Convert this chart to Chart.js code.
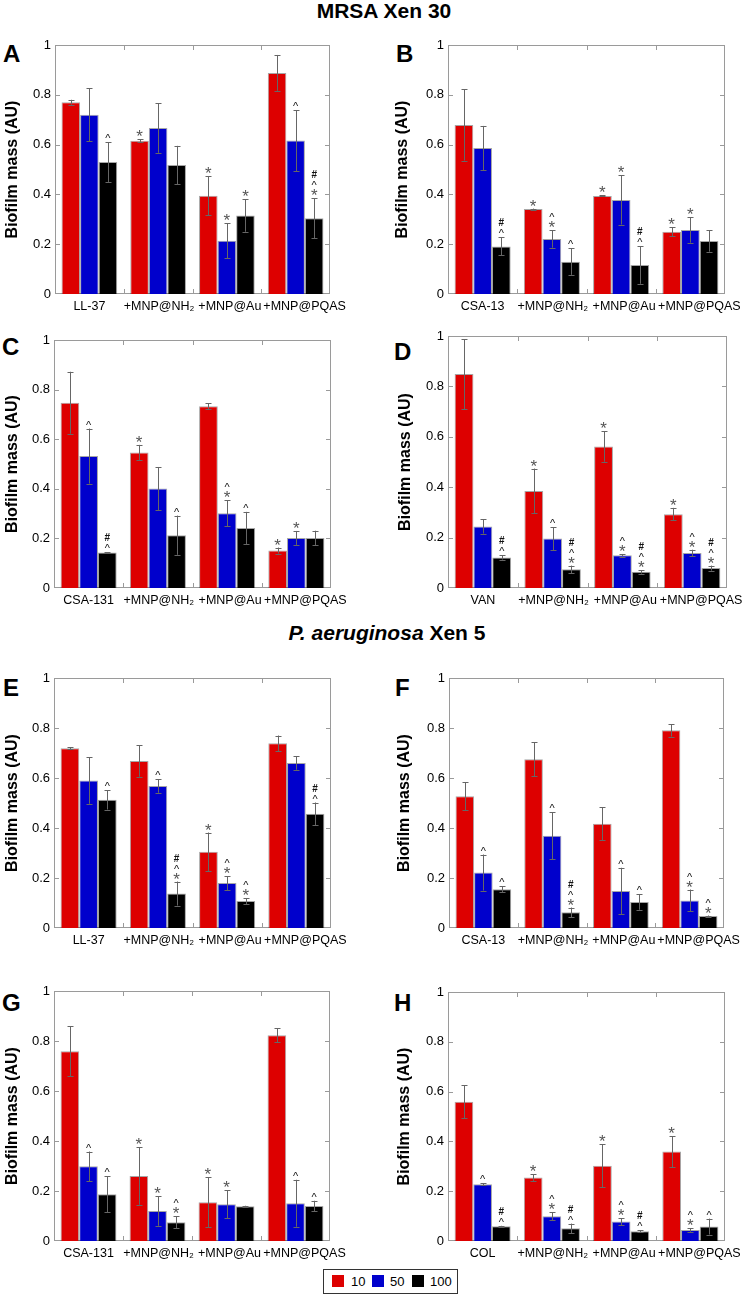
<!DOCTYPE html>
<html>
<head>
<meta charset="utf-8">
<script src="https://cdn.jsdelivr.net/npm/chart.js@4.4.0/dist/chart.umd.min.js"></script>
<style>
  body { margin: 0; width: 746px; height: 1301px; background: #fff; position: relative; overflow: hidden;
         font-family: "Liberation Sans", Arial, sans-serif; color: #000; }
  .panel { position: absolute; }
  .letter { position: absolute; font-weight: bold; font-size: 24px; line-height: 24px; }
  .head { position: absolute; font-weight: bold; font-size: 21px; line-height: 21px; white-space: nowrap; transform: translateX(-50%); }
  .legend { position: absolute; left: 323px; top: 1269px; width: 133px; height: 23px; border: 1px solid #333; font-size: 13px; }
  .legend span { position: absolute; }
  .legend .sw { width: 12px; height: 12px; top: 5px; }
  .legend .tx { top: 4px; line-height: 15px; }
</style>
</head>
<body>

<div class="head" style="left:384px; top:0px;">MRSA Xen 30</div>
<div class="head" style="left:387px; top:622px;"><i>P. aeruginosa</i> Xen 5</div>

<div class="letter" style="left:3px; top:42px;">A</div>
<div class="letter" style="left:396px; top:42px;">B</div>
<div class="letter" style="left:2px; top:335px;">C</div>
<div class="letter" style="left:394px; top:340px;">D</div>
<div class="letter" style="left:3px; top:676px;">E</div>
<div class="letter" style="left:395px; top:676px;">F</div>
<div class="letter" style="left:2px; top:991px;">G</div>
<div class="letter" style="left:394px; top:991px;">H</div>

<div class="legend">
  <span class="sw" style="left:8px; background:#dd0000;"></span><span class="tx" style="left:27px;">10</span>
  <span class="sw" style="left:48px; background:#0000cc;"></span><span class="tx" style="left:66px;">50</span>
  <span class="sw" style="left:88px; background:#000;"></span><span class="tx" style="left:106px;">100</span>
</div>

<script>
// ---------- data ----------
const doses = ['10', '50', '100'];
const doseColors = ['#dd0000', '#0000cc', '#000000'];

// MRSA Xen 30
const labelsA = ['LL-37', '+MNP@NH₂', '+MNP@Au', '+MNP@PQAS'];
const meanA = [[0.77, 0.615, 0.395, 0.888], [0.72, 0.667, 0.214, 0.616], [0.53, 0.518, 0.315, 0.304]];
const errA  = [[0.01, 0.006, 0.079, 0.072], [0.107, 0.1, 0.07, 0.123], [0.08, 0.077, 0.065, 0.08]];
const markA = [['', '*', '*', ''], ['', '', '*', '^'], ['^', '', '*', '#^*']];

const labelsB = ['CSA-13', '+MNP@NH₂', '+MNP@Au', '+MNP@PQAS'];
const meanB = [[0.679, 0.341, 0.394, 0.25], [0.586, 0.221, 0.378, 0.257], [0.191, 0.13, 0.116, 0.213]];
const errB  = [[0.143, 0.002, 0.002, 0.018], [0.089, 0.035, 0.099, 0.051], [0.036, 0.053, 0.075, 0.043]];
const markB = [['', '*', '*', '*'], ['', '^*', '*', '*'], ['#^', '^', '#^', '']];

const labelsC = ['CSA-131', '+MNP@NH₂', '+MNP@Au', '+MNP@PQAS'];
const meanC = [[0.747, 0.546, 0.733, 0.151], [0.532, 0.401, 0.301, 0.202], [0.143, 0.213, 0.242, 0.202]];
const errC  = [[0.125, 0.031, 0.011, 0.012], [0.111, 0.087, 0.052, 0.028], [0.002, 0.079, 0.065, 0.029]];
const markC = [['', '*', '', '*'], ['^', '', '^*', '*'], ['#^', '^', '^', '']];

const labelsD = ['VAN', '+MNP@NH₂', '+MNP@Au', '+MNP@PQAS'];
const meanD = [[0.849, 0.385, 0.562, 0.293], [0.244, 0.196, 0.13, 0.139], [0.121, 0.074, 0.064, 0.079]];
const errD  = [[0.139, 0.089, 0.061, 0.025], [0.028, 0.046, 0.005, 0.013], [0.008, 0.015, 0.007, 0.01]];
const markD = [['', '*', '*', '*'], ['', '^', '^*', '^*'], ['#^', '#^*', '#^*', '#^*']];

// P. aeruginosa Xen 5
const labelsE = ['LL-37', '+MNP@NH₂', '+MNP@Au', '+MNP@PQAS'];
const meanE = [[0.719, 0.668, 0.305, 0.739], [0.59, 0.568, 0.18, 0.66], [0.513, 0.138, 0.108, 0.457]];
const errE  = [[0.004, 0.063, 0.077, 0.031], [0.093, 0.027, 0.028, 0.027], [0.039, 0.048, 0.012, 0.045]];
const markE = [['', '', '*', ''], ['', '^', '^*', ''], ['^', '#^*', '^*', '#^']];

const labelsF = ['CSA-13', '+MNP@NH₂', '+MNP@Au', '+MNP@PQAS'];
const meanF = [[0.527, 0.675, 0.417, 0.791], [0.222, 0.369, 0.148, 0.11], [0.155, 0.063, 0.104, 0.048]];
const errF  = [[0.056, 0.068, 0.066, 0.025], [0.072, 0.094, 0.093, 0.044], [0.012, 0.019, 0.031, 0.002]];
const markF = [['', '', '', ''], ['^', '^', '^', '^*'], ['^', '#^*', '^', '^*']];

const labelsG = ['CSA-131', '+MNP@NH₂', '+MNP@Au', '+MNP@PQAS'];
const meanG = [[0.759, 0.26, 0.155, 0.823], [0.299, 0.12, 0.147, 0.151], [0.187, 0.075, 0.139, 0.14]];
const errG  = [[0.1, 0.115, 0.1, 0.028], [0.059, 0.059, 0.056, 0.094], [0.072, 0.024, 0.002, 0.021]];
const markG = [['', '*', '*', ''], ['^', '*', '*', '^'], ['^', '^*', '', '^']];

const labelsH = ['COL', '+MNP@NH₂', '+MNP@Au', '+MNP@PQAS'];
const meanH = [[0.559, 0.255, 0.302, 0.359], [0.228, 0.099, 0.078, 0.044], [0.059, 0.051, 0.039, 0.058]];
const errH  = [[0.067, 0.014, 0.087, 0.062], [0.003, 0.016, 0.014, 0.007], [0.002, 0.019, 0.004, 0.032]];
const markH = [['', '*', '*', '*'], ['^', '^*', '^*', '^*'], ['#^', '#^', '#^', '^']];

const yTicks = [0, 0.2, 0.4, 0.6, 0.8, 1];

// ---------- plugins ----------
// grey box round the plot with small inward ticks
const framePlugin = {
  id: 'frame',
  beforeDatasetsDraw(chart) {
    const { ctx, chartArea: a, scales: { x, y } } = chart;
    ctx.save();
    ctx.strokeStyle = '#9a9a9a';
    ctx.lineWidth = 1;
    ctx.strokeRect(a.left + 0.5, a.top + 0.5, a.right - a.left - 1, a.bottom - a.top - 1);
    ctx.beginPath();
    yTicks.forEach(v => {
      if (v <= 0 || v >= 1) return;
      const py = Math.round(y.getPixelForValue(v)) + 0.5;
      ctx.moveTo(a.left, py); ctx.lineTo(a.left + 5, py);
      ctx.moveTo(a.right, py); ctx.lineTo(a.right - 5, py);
    });
    for (let i = 0; i < x.ticks.length - 1; i++) {
      const px = Math.round((x.getPixelForValue(i) + x.getPixelForValue(i + 1)) / 2) + 0.5;
      ctx.moveTo(px, a.top); ctx.lineTo(px, a.top + 5);
      ctx.moveTo(px, a.bottom); ctx.lineTo(px, a.bottom - 5);
    }
    ctx.stroke();
    ctx.restore();
  }
};

// in the figure the long group names sit a little right of their bars
const labelShift = [0, 1, 3, 9];
const labelNudge = {
  id: 'labelNudge',
  beforeDraw(chart) {
    const items = chart.scales.x.getLabelItems();
    items.forEach((it, i) => { it.options.translation[0] += labelShift[i] || 0; });
  }
};

const markStyle = {
  '*': { font: '17px "Liberation Sans", Arial, sans-serif', color: '#555' },
  '^': { font: '11px "Liberation Sans", Arial, sans-serif', color: '#111' },
  '#': { font: 'bold 10px "Liberation Sans", Arial, sans-serif', color: '#111' }
};

// error bars + significance marks stacked above them
const errorPlugin = {
  id: 'errbars',
  afterDatasetsDraw(chart) {
    const { ctx, scales: { y } } = chart;
    ctx.save();
    chart.data.datasets.forEach((ds, di) => {
      const meta = chart.getDatasetMeta(di);
      meta.data.forEach((bar, j) => {
        const v = ds.data[j], e = ds.errors[j];
        const px = Math.round(bar.x) + 0.5;
        const yt = y.getPixelForValue(v + e), yb = y.getPixelForValue(v - e);
        ctx.strokeStyle = '#666';
        ctx.lineWidth = 1;
        ctx.beginPath();
        ctx.moveTo(px, yt); ctx.lineTo(px, yb);
        ctx.moveTo(px - 3, Math.round(yt) + 0.5); ctx.lineTo(px + 3, Math.round(yt) + 0.5);
        ctx.moveTo(px - 3, Math.round(yb) + 0.5); ctx.lineTo(px + 3, Math.round(yb) + 0.5);
        ctx.stroke();

        const marks = ds.marks[j];
        let cy = yt - 6;
        ctx.textAlign = 'center';
        ctx.textBaseline = 'alphabetic';
        for (let k = marks.length - 1; k >= 0; k--) {
          const st = markStyle[marks[k]];
          ctx.font = st.font;
          ctx.fillStyle = st.color;
          const m = ctx.measureText(marks[k]);
          const base = cy + (m.actualBoundingBoxAscent - m.actualBoundingBoxDescent) / 2;
          ctx.fillText(marks[k], bar.x, base);
          cy -= 9;
        }
      });
    });
    ctx.restore();
  }
};

// ---------- panels ----------
// cl = canvas left, L/R/T/B = plot area edges in page pixels
const padRight = 24;
function makePanel(box, labels, means, errs, marks) {
  const ct = box.T - 12;
  const ch = box.B + 26 - ct;
  const cw = box.R + padRight - box.cl;
  const div = document.createElement('div');
  div.className = 'panel';
  div.style.left = box.cl + 'px';
  div.style.top = ct + 'px';
  const cv = document.createElement('canvas');
  cv.width = cw; cv.height = ch;
  cv.style.width = cw + 'px'; cv.style.height = ch + 'px';
  div.appendChild(cv);
  document.body.appendChild(div);

  const yWidth = box.L - box.cl;

  new Chart(cv, {
    type: 'bar',
    data: {
      labels: labels,
      datasets: doses.map((d, i) => ({
        label: d,
        data: means[i],
        errors: errs[i],
        marks: marks[i],
        backgroundColor: doseColors[i],
        borderColor: 'rgba(0,0,0,0.35)',
        borderWidth: 1,
        categoryPercentage: 0.81,
        barPercentage: 1.0
      }))
    },
    options: {
      responsive: false,
      animation: false,
      devicePixelRatio: 1,
      layout: { padding: { top: 12, right: padRight, left: 0, bottom: 0 } },
      plugins: { legend: { display: false }, tooltip: { enabled: false } },
      scales: {
        x: {
          grid: { display: false, drawTicks: false },
          border: { display: false },
          ticks: {
            color: '#000', autoSkip: false, maxRotation: 0, minRotation: 0, padding: 5,
            font: { family: '"Liberation Sans", Arial, sans-serif', size: 12.5 }
          },
          afterFit(scale) { scale.height = 26; }
        },
        y: {
          min: 0, max: 1,
          grid: { display: false, drawTicks: false },
          border: { display: false },
          afterBuildTicks(scale) { scale.ticks = yTicks.map(v => ({ value: v })); },
          ticks: {
            color: '#000', padding: 4,
            callback: v => String(Math.round(v * 10) / 10),
            font: { family: '"Liberation Sans", Arial, sans-serif', size: 13 }
          },
          title: {
            display: true, text: 'Biofilm mass (AU)', color: '#000',
            padding: { top: 3, bottom: 0 },
            font: { family: '"Liberation Sans", Arial, sans-serif', size: 16, weight: 'bold' }
          },
          afterFit(scale) { scale.width = yWidth; }
        }
      }
    },
    plugins: [framePlugin, errorPlugin, labelNudge]
  });
}

makePanel({ cl: 0,   L: 55,  R: 330, T: 45,  B: 294 },  labelsA, meanA, errA, markA);
makePanel({ cl: 390, L: 448, R: 725, T: 45,  B: 294 },  labelsB, meanB, errB, markB);
makePanel({ cl: 0,   L: 54,  R: 331, T: 340, B: 588 },  labelsC, meanC, errC, markC);
makePanel({ cl: 393, L: 448, R: 727, T: 336, B: 588 },  labelsD, meanD, errD, markD);
makePanel({ cl: 0,   L: 54,  R: 331, T: 678, B: 928 },  labelsE, meanE, errE, markE);
makePanel({ cl: 392, L: 449, R: 724, T: 678, B: 928 },  labelsF, meanF, errF, markF);
makePanel({ cl: 0,   L: 54,  R: 330, T: 991, B: 1241 }, labelsG, meanG, errG, markG);
makePanel({ cl: 392, L: 448, R: 725, T: 992, B: 1241 }, labelsH, meanH, errH, markH);
</script>
</body>
</html>
